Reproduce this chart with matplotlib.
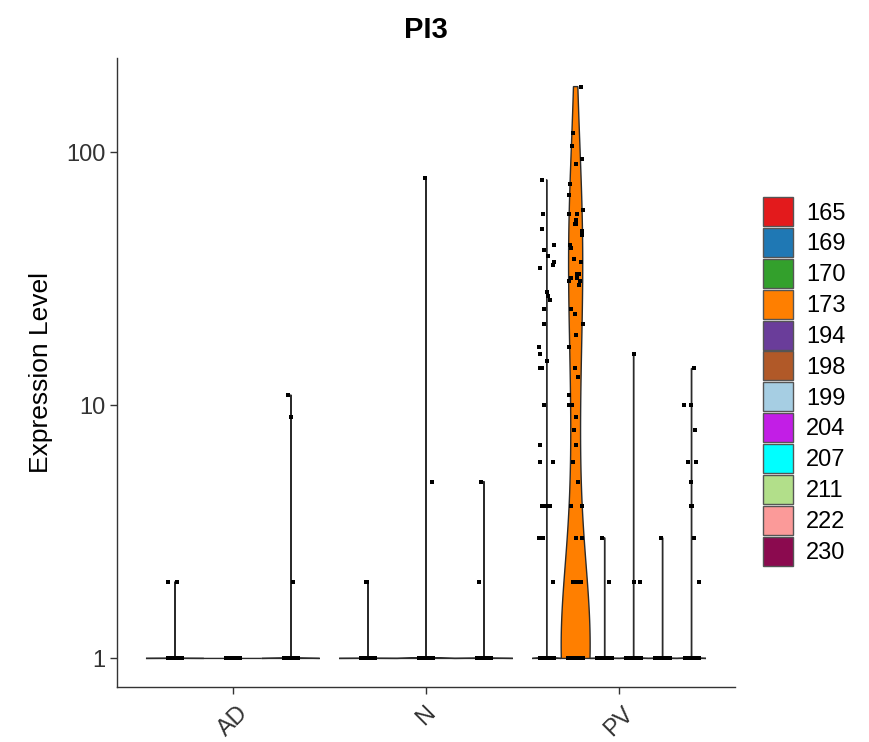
import numpy as np
import matplotlib.pyplot as plt
from matplotlib.patches import Patch

plt.rcParams['font.family'] = ['Liberation Sans', 'DejaVu Sans']

# groups on the x axis and the clusters dodged inside each group
conditions = ['AD', 'N', 'PV']
ad_clusters = ['165', '222', '230']
n_clusters = ['170', '204', '207']
pv_clusters = ['169', '173', '194', '198', '199', '211']

clusters = ['165', '169', '170', '173', '194', '198', '199', '204', '207', '211', '222', '230']
cluster_colors = ['#E31A1C', '#1F78B4', '#33A02C', '#FF7F00', '#6A3D9A', '#B15928',
                  '#A6CEE3', '#C21EE6', '#00FFFF', '#B2DF8A', '#FB9A99', '#8B0A4F']

# expression of the cells above 1, plus how many cells sit at 1
expr_165 = [2, 2]
expr_222 = []
expr_230 = [11, 9, 2]
expr_170 = [2, 2]
expr_204 = [79, 5]
expr_207 = [5, 2]
expr_169 = [78, 57, 50, 43, 41, 39, 37, 36, 35, 28, 27, 26, 24, 21, 17, 16, 15, 14, 14,
            10, 7, 6, 6, 4, 4, 4, 3, 3, 2, 2]
expr_173 = [182, 119, 106, 94, 90, 75, 68, 59, 57, 57, 54, 52, 52, 49, 47, 43, 42, 38, 37,
            33, 33, 32, 32, 31, 31, 30, 24, 23, 21, 19, 17, 14, 13, 11, 10, 10, 9, 8, 7, 6,
            5, 4, 4, 3, 3, 2, 2, 2, 2, 2, 2, 2, 2]
expr_194 = [3, 2]
expr_198 = [16, 2, 2]
expr_199 = [3]
expr_211 = [14, 10, 10, 8, 6, 6, 5, 4, 4, 3, 2]

ones_165, ones_222, ones_230 = 120, 120, 120
ones_170, ones_204, ones_207 = 120, 120, 120
ones_169, ones_173, ones_194, ones_198, ones_199, ones_211 = 120, 48, 120, 120, 120, 120

expr = {'165': expr_165, '222': expr_222, '230': expr_230, '170': expr_170, '204': expr_204,
        '207': expr_207, '169': expr_169, '173': expr_173, '194': expr_194, '198': expr_198,
        '199': expr_199, '211': expr_211}
ones = {'165': ones_165, '222': ones_222, '230': ones_230, '170': ones_170, '204': ones_204,
        '207': ones_207, '169': ones_169, '173': ones_173, '194': ones_194, '198': ones_198,
        '199': ones_199, '211': ones_211}
groups = {'AD': ad_clusters, 'N': n_clusters, 'PV': pv_clusters}
color_of = dict(zip(clusters, cluster_colors))


def violin_profile(vals, adjust=1.25):
    # gaussian kde on log10 values, bw like R's bw.nrd0, trimmed to the data range.
    # when most cells are tied at 1 the IQR is ~0 and the bandwidth collapses
    # (Seurat only adds a tiny noise), which gives the needle-like violins
    x = np.log10(vals)
    sd = x.std(ddof=1) if len(x) > 1 else 0.0
    q75, q25 = np.percentile(x, [75, 25])
    lo = min(sd, (q75 - q25) / 1.349)
    if lo == 0:
        lo = 1e-5
    bw = adjust * 0.9 * lo * len(x) ** -0.2
    grid = np.linspace(x.min(), x.max(), 512)
    dens = np.exp(-0.5 * ((grid[:, None] - x[None, :]) / bw) ** 2).sum(axis=1)
    return 10 ** grid, dens / dens.max()


fig = plt.figure(figsize=(8.7, 7.42), dpi=100)
ax = fig.add_axes([0.1345, 0.0741, 0.7103, 0.8477])
ax.set_yscale('log')

rng = np.random.default_rng(7)
all_vals = []
for gi, cond in enumerate(conditions):
    members = groups[cond]
    k = len(members)
    w = 0.9 / k
    for j, cl in enumerate(members):
        center = gi + 1 - 0.45 + w * (j + 0.5)
        vals = np.array([1.0] * ones[cl] + list(expr[cl]), dtype=float)
        all_vals.extend(vals)
        ys, d = violin_profile(vals)
        xs = np.concatenate([center - d * w / 2, (center + d * w / 2)[::-1]])
        yy = np.concatenate([ys, ys[::-1]])
        ax.fill(xs, yy, facecolor=color_of[cl], edgecolor='#2b2b2b', linewidth=1.0, zorder=2)
        jit = rng.uniform(-0.038, 0.038, len(vals))
        ax.scatter(center + jit, vals, s=8, marker='s', color='black', linewidths=0, zorder=3)

lmax = np.log10(max(all_vals))
ax.set_ylim(10 ** (-0.05 * lmax), 10 ** (1.05 * lmax))
ax.set_xlim(0.4, 3.6)
ax.set_xticks([1, 2, 3])
ax.set_xticklabels(conditions, rotation=45, ha='center', va='top', fontsize=17)
ax.set_yticks([1, 10, 100])
ax.set_yticklabels(['1', '10', '100'], fontsize=17)
ax.minorticks_off()
ax.tick_params(axis='both', length=5, width=1, color='#333333', labelcolor='#333333')
ax.tick_params(axis='x', pad=6)
for s in ['top', 'right']:
    ax.spines[s].set_visible(False)
for s in ['left', 'bottom']:
    ax.spines[s].set_linewidth(1)
    ax.spines[s].set_color('#333333')

ax.set_ylabel('Expression Level', fontsize=19, labelpad=9)
ax.set_xlabel('')
fig.suptitle('PI3', fontsize=21, fontweight='bold', x=0.49, y=0.978)

handles = [Patch(facecolor=c, edgecolor='#555555', linewidth=1) for c in cluster_colors]
fig.legend(handles, clusters, loc='center left', bbox_to_anchor=(0.877, 0.486), frameon=False,
           fontsize=17, handlelength=1.27, handleheight=1.51, labelspacing=0.08,
           handletextpad=0.55, borderaxespad=0, borderpad=0)

fig.savefig('out.png', dpi=100)
